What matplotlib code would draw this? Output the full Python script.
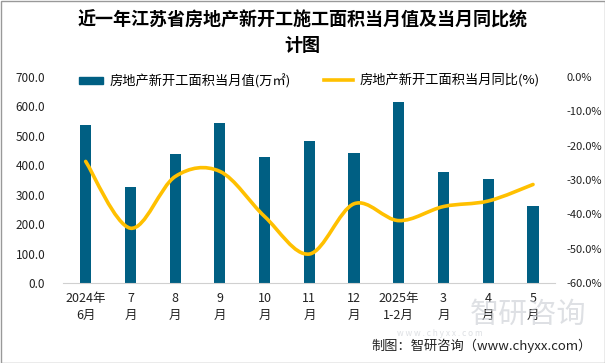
import numpy as np
import matplotlib.pyplot as plt
from matplotlib.path import Path
from matplotlib.patches import PathPatch, Rectangle
from matplotlib.lines import Line2D

plt.rcParams['font.family'] = ['Noto Sans CJK SC', 'DejaVu Sans']

# data
months = ['2024年\n6月', '7\n月', '8\n月', '9\n月', '10\n月', '11\n月',
          '12\n月', '2025年\n1-2月', '3\n月', '4\n月', '5\n月']
area = [536, 326, 438, 544, 428, 482, 441, 614, 377, 353, 262]
yoy = [-24.6, -44.0, -29.0, -27.5, -40.6, -51.5, -36.9, -41.8, -37.7, -36.1, -31.3]

BAR_COLOR = '#005F83'
LINE_COLOR = '#FFC000'

fig = plt.figure(figsize=(6.05, 3.63), dpi=100)
ax = fig.add_axes([63.3 / 605, 1 - 283.3 / 363, (555.4 - 63.3) / 605, (283.3 - 76.7) / 363])
ax2 = ax.twinx()

x = np.arange(len(months))
ax.bar(x, area, width=0.25, color=BAR_COLOR, zorder=2)
ax.set_xlim(-0.5, len(months) - 0.5)
ax.set_ylim(0, 700)
ax.set_yticks(np.arange(0, 701, 100))
ax.set_yticklabels([f'{v:.1f}' for v in np.arange(0, 701, 100)], fontsize=8.5, color='#222222')
ax.set_xticks(x)
ax.set_xticklabels(months, fontsize=9, color='#222222', linespacing=1.45)
ax.tick_params(length=0, pad=6)
ax.tick_params(axis='y', pad=13)
for s in ['top', 'right', 'left']:
    ax.spines[s].set_visible(False)
ax.spines['bottom'].set_color('#d0d0d0')

# smoothed line (Excel style bezier through points)
pts = np.column_stack([x, yoy])
verts = [tuple(pts[0])]
codes = [Path.MOVETO]
n = len(pts)
for i in range(n - 1):
    p0 = pts[i - 1] if i > 0 else pts[i]
    p1, p2 = pts[i], pts[i + 1]
    p3 = pts[i + 2] if i + 2 < n else pts[i + 1]
    c1 = p1 + (p2 - p0) / 6
    c2 = p2 - (p3 - p1) / 6
    verts += [tuple(c1), tuple(c2), tuple(p2)]
    codes += [Path.CURVE4] * 3
ax2.add_patch(PathPatch(Path(verts, codes), facecolor='none', edgecolor=LINE_COLOR,
                        lw=2.6, capstyle='round', zorder=3))
ax2.set_ylim(-60, 0)
ax2.set_yticks(np.arange(-60, 1, 10))
ax2.set_yticklabels([f'{v:.1f}%' for v in np.arange(-60, 1, 10)], fontsize=8, color='#222222')
ax2.tick_params(length=0, pad=8)
for s in ['top', 'right', 'left', 'bottom']:
    ax2.spines[s].set_visible(False)

# legends
h1 = Rectangle((0, 0), 1, 1, color=BAR_COLOR)
fig.legend([h1], ['房地产新开工面积当月值(万㎡)'], loc='center left',
           bbox_to_anchor=(74 / 605, 1 - 81 / 363), frameon=False, fontsize=9.5,
           handlelength=1.8, handleheight=0.5, handletextpad=0.5, borderaxespad=0)
h2 = Line2D([], [], color=LINE_COLOR, lw=2.6)
fig.legend([h2], ['房地产新开工面积当月同比(%)'], loc='center left',
           bbox_to_anchor=(319 / 605, 1 - 81 / 363), frameon=False, fontsize=9.5,
           handlelength=2.2, handletextpad=0.5, borderaxespad=0)

fig.text(0.5, 1 - 33 / 363, '近一年江苏省房地产新开工施工面积当月值及当月同比统\n计图',
         ha='center', va='center', fontsize=13, fontweight='bold', linespacing=1.4)

# watermark
fig.text(528 / 605, 1 - 315 / 363, '智研咨询', ha='center', va='center', fontsize=21,
         color='#c8ccd2', alpha=0.6)
fig.text(440 / 605, 1 - 333 / 363, 'w w w . c h y x x . c o m', ha='center', va='center',
         fontsize=6, color='#c8ccd2', alpha=0.6)
fig.text(592 / 605, 1 - 346 / 363, '制图：智研咨询（www.chyxx.com）', ha='right', va='center',
         fontsize=9.5, color='#222222')

fig.add_artist(Rectangle((0.5 / 605, 0.5 / 363), 604 / 605, 362 / 363, transform=fig.transFigure,
                         fill=False, edgecolor='#999999', lw=1))

fig.savefig('out.png', dpi=100)
